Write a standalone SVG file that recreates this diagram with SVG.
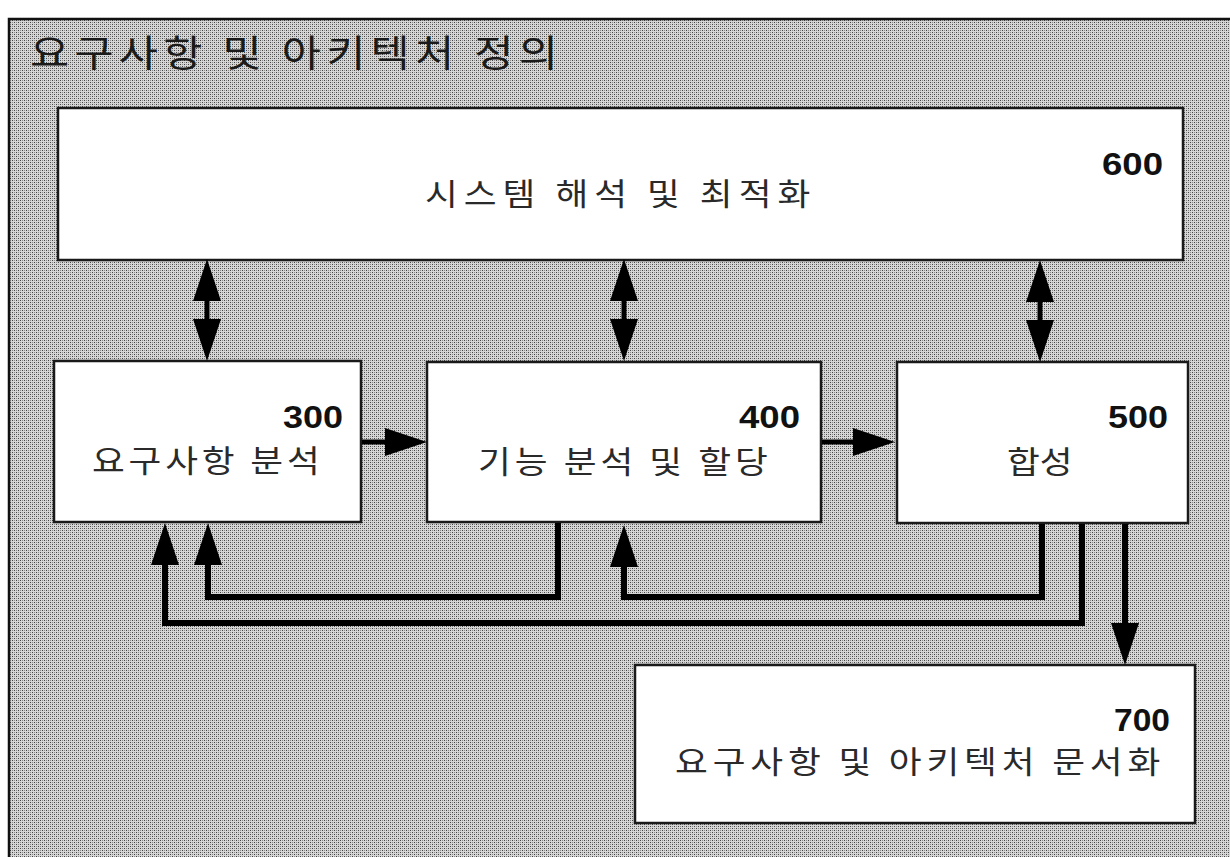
<svg xmlns="http://www.w3.org/2000/svg" width="1230" height="857" viewBox="0 0 1230 857">
  <style>
    .box { fill: #ffffff; stroke: #1a1a1a; stroke-width: 2.5; }
    .lbl { font-family: "Noto Sans CJK KR", "Noto Sans", sans-serif; font-size: 31px; fill: #2a2a2a; }
    .num { font-family: "Liberation Sans", Arial, sans-serif; font-weight: bold; font-size: 32px; fill: #111111; text-anchor: end; }
    .title { font-family: "Noto Sans CJK KR", "Noto Sans", sans-serif; font-size: 37px; fill: #1a1a1a; }
    .flow { fill: none; stroke: #000000; stroke-width: 6; stroke-linejoin: miter; }
    .dbl { fill: none; stroke: #000000; stroke-width: 5; }
  </style>
  <defs>
    <pattern id="dither" width="4" height="4" patternUnits="userSpaceOnUse">
      <rect width="4" height="4" fill="#d6d6d6"/>
      <rect x="0" y="0" width="1" height="1" fill="#444444"/>
      <rect x="2" y="2" width="1" height="1" fill="#444444"/>
      <rect x="2" y="0" width="1" height="1" fill="#8a8a8a"/>
      <rect x="0" y="2" width="1" height="1" fill="#8a8a8a"/>
    </pattern>
    <marker id="ah" viewBox="0 0 42 28" markerWidth="42" markerHeight="28" refX="0" refY="14" orient="auto-start-reverse" markerUnits="userSpaceOnUse">
      <path d="M0,0 L42,14 L0,28 z" fill="#000000"/>
    </marker>
  </defs>

  <rect x="0" y="0" width="1230" height="857" fill="#ffffff"/>
  <g id="frame">
    <rect x="9" y="19" width="1230" height="850" fill="url(#dither)" stroke="#111111" stroke-width="2.5"/>
    <text class="title" transform="translate(30,67) scale(1.15,1)" x="0" y="0" textLength="459" lengthAdjust="spacing">요구사항 및 아키텍처 정의</text>
  </g>

  <g id="node600">
    <rect class="box" x="58" y="108" width="1125" height="152"/>
    <text class="num" x="1163" y="175" textLength="61" lengthAdjust="spacingAndGlyphs">600</text>
    <text class="lbl" transform="translate(425,205) scale(1.15,1)" x="0" y="0" textLength="335" lengthAdjust="spacing">시스템 해석 및 최적화</text>
  </g>

  <g id="node300">
    <rect class="box" x="54" y="361" width="307" height="161"/>
    <text class="num" x="343" y="428" textLength="60" lengthAdjust="spacingAndGlyphs">300</text>
    <text class="lbl" transform="translate(92,472) scale(1.15,1)" x="0" y="0" textLength="198" lengthAdjust="spacing">요구사항 분석</text>
  </g>

  <g id="node400">
    <rect class="box" x="427" y="362" width="394" height="160"/>
    <text class="num" x="800" y="428" textLength="61" lengthAdjust="spacingAndGlyphs">400</text>
    <text class="lbl" transform="translate(478,473) scale(1.15,1)" x="0" y="0" textLength="252" lengthAdjust="spacing">기능 분석 및 할당</text>
  </g>

  <g id="node500">
    <rect class="box" x="897" y="362" width="291" height="161"/>
    <text class="num" x="1168" y="428" textLength="60" lengthAdjust="spacingAndGlyphs">500</text>
    <text class="lbl" transform="translate(1007,473) scale(1.15,1)" x="0" y="0" textLength="57" lengthAdjust="spacing">합성</text>
  </g>

  <g id="node700">
    <rect class="box" x="635" y="665" width="560" height="158"/>
    <text class="num" x="1170" y="731" textLength="56" lengthAdjust="spacingAndGlyphs">700</text>
    <text class="lbl" transform="translate(675,773) scale(1.15,1)" x="0" y="0" textLength="422" lengthAdjust="spacing">요구사항 및 아키텍처 문서화</text>
  </g>

  <g id="connectors">
    <!-- bidirectional links with 600 -->
    <line class="dbl" x1="207" y1="301" x2="207" y2="319" marker-start="url(#ah)" marker-end="url(#ah)"/>
    <line class="dbl" x1="624" y1="301" x2="624" y2="319" marker-start="url(#ah)" marker-end="url(#ah)"/>
    <line class="dbl" x1="1040" y1="302" x2="1040" y2="320" marker-start="url(#ah)" marker-end="url(#ah)"/>
    <!-- forward flow -->
    <line class="dbl" x1="362" y1="442" x2="385" y2="442" marker-end="url(#ah)"/>
    <line class="dbl" x1="822" y1="442" x2="853" y2="442" marker-end="url(#ah)"/>
    <!-- feedback loops -->
    <path class="flow" d="M558,523 V597 H208 V565" marker-end="url(#ah)"/>
    <path class="flow" d="M1042,524 V597 H624 V567" marker-end="url(#ah)"/>
    <path class="flow" d="M1082,524 V623 H165 V565" marker-end="url(#ah)"/>
    <!-- to documentation -->
    <path class="flow" d="M1125,524 V623" marker-end="url(#ah)"/>
  </g>
</svg>
